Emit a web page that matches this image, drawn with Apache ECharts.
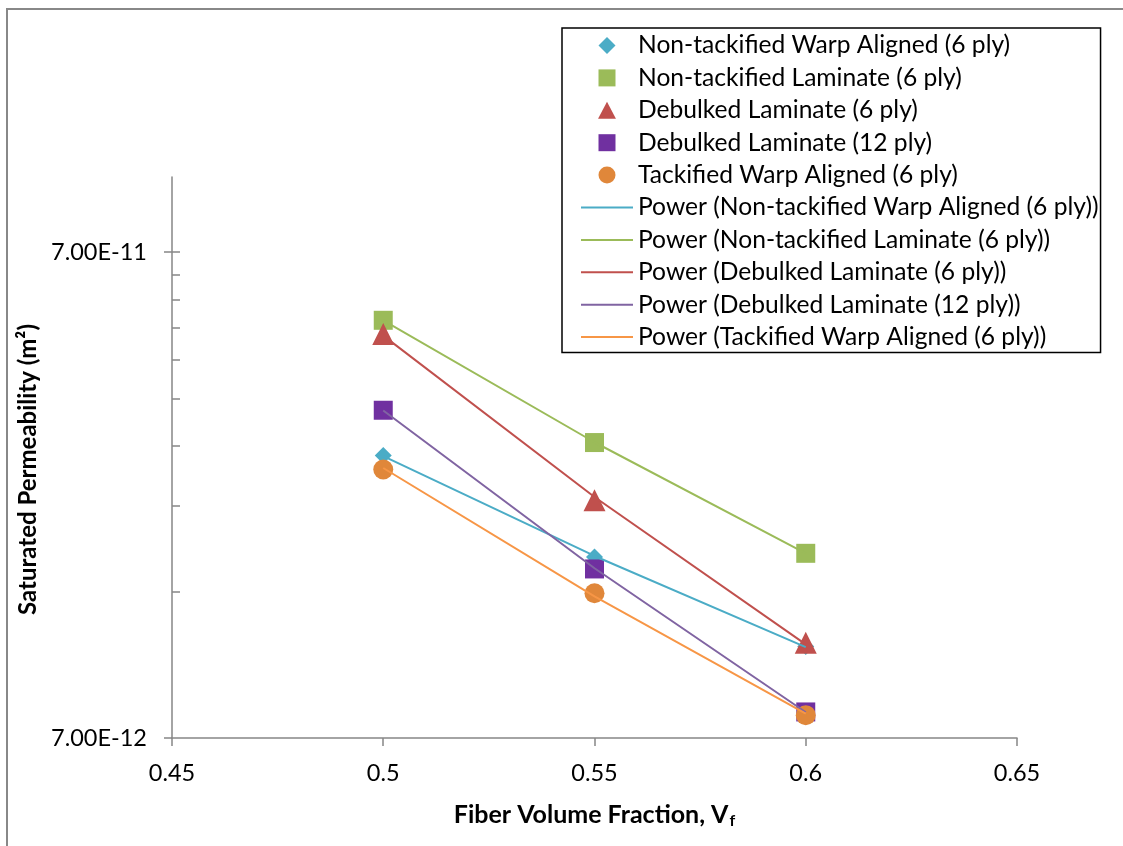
<!DOCTYPE html>
<html>
<head>
<meta charset="utf-8">
<script src="https://cdn.jsdelivr.net/npm/echarts@6/dist/echarts.min.js"></script>
<style>html,body{margin:0;padding:0;background:#fff}#c{width:1123px;height:846px}</style>
</head>
<body>
<div id="c"></div>
<script>
// ---- data ----
const xValues = [0.5, 0.55, 0.6];
const warpNonTack = [2.67e-11, 1.65e-11, 1.08e-11];
const lamNonTack = [5.07e-11, 2.84e-11, 1.68e-11];
const debulked6 = [4.75e-11, 2.16e-11, 1.10e-11];
const debulked12 = [3.31e-11, 1.56e-11, 7.92e-12];
const warpTack = [2.50e-11, 1.39e-11, 7.80e-12];
const seriesNames = [
  'Non-tackified Warp Aligned (6 ply)',
  'Non-tackified Laminate (6 ply)',
  'Debulked Laminate (6 ply)',
  'Debulked Laminate (12 ply)',
  'Tackified Warp Aligned (6 ply)'
];
const xTicks = [0.45, 0.5, 0.55, 0.6, 0.65];
const yMajorTicks = [7e-12, 7e-11];
const yMinorTicks = [1.4e-11, 2.1e-11, 2.8e-11, 3.5e-11, 4.2e-11, 4.9e-11, 5.6e-11, 6.3e-11, 7e-11];

// ---- styles ----
const markerColors = ['#4BACC6', '#9BBB59', '#C0504D', '#7030A0', '#E0873A'];
const lineColors = ['#4BACC6', '#9BBB59', '#C0504D', '#8064A2', '#F79646'];
const symbols = ['diamond', 'rect', 'triangle', 'rect', 'circle'];
const symbolSizes = [17, 19, 22, 19, 20];
const legendIcons = [
  'path://M0,-1 L1,0 L0,1 L-1,0 Z',
  'path://M-1,-1 L1,-1 L1,1 L-1,1 Z',
  'path://M0,-0.95 L1,0.95 L-1,0.95 Z',
  'path://M-1,-1 L1,-1 L1,1 L-1,1 Z',
  'path://M1,0 A1,1 0 1,1 -1,0 A1,1 0 1,1 1,0 Z'
];
const FONT = 'Lato';

// power regression (Excel "Power" trendline)
function powerFit(xs, ys) {
  const n = xs.length;
  let sx = 0, sy = 0, sxx = 0, sxy = 0;
  for (let i = 0; i < n; i++) {
    const lx = Math.log(xs[i]), ly = Math.log(ys[i]);
    sx += lx; sy += ly; sxx += lx * lx; sxy += lx * ly;
  }
  const b = (n * sxy - sx * sy) / (n * sxx - sx * sx);
  const a = Math.exp((sy - b * sx) / n);
  return xs.map(x => [x, a * Math.pow(x, b)]);
}

const allData = [warpNonTack, lamNonTack, debulked6, debulked12, warpTack];
const series = [];
const legendData = [];
allData.forEach((ys, i) => {
  series.push({
    name: seriesNames[i],
    type: 'scatter',
    symbol: symbols[i],
    symbolSize: symbolSizes[i],
    itemStyle: { color: markerColors[i], opacity: 1 },
    data: xValues.map((x, j) => [x, ys[j]]),
    z: 2
  });
  legendData.push({ name: seriesNames[i], icon: legendIcons[i] });
});
allData.forEach((ys, i) => {
  const nm = 'Power (' + seriesNames[i] + ')';
  series.push({
    name: nm,
    type: 'line',
    symbol: 'none',
    lineStyle: { color: lineColors[i], width: 2 },
    itemStyle: { color: lineColors[i] },
    data: powerFit(xValues, ys),
    z: 3
  });
  legendData.push({ name: nm, itemStyle: { opacity: 0 } });
});

const chart = echarts.init(document.getElementById('c'));
chart.setOption({
  animation: false,
  backgroundColor: '#fff',
  textStyle: { fontFamily: FONT },
  graphic: [
    { type: 'line', shape: { x1: 7, y1: 9, x2: 1123, y2: 9 }, style: { stroke: '#888', lineWidth: 2 } },
    { type: 'line', shape: { x1: 7, y1: 8, x2: 7, y2: 846 }, style: { stroke: '#888', lineWidth: 2 } }
  ],
  grid: { left: 172, right: 106, top: 177, bottom: 108 },
  legend: {
    orient: 'vertical',
    left: 562,
    top: 28,
    padding: [5, 2, 3, 18],
    itemWidth: 52,
    itemHeight: 17,
    itemGap: 7.4,
    symbolKeepAspect: true,
    borderColor: '#000',
    borderWidth: 1.5,
    backgroundColor: '#fff',
    textStyle: { fontFamily: FONT, fontSize: 24.6, color: '#000' },
    data: legendData
  },
  xAxis: {
    type: 'value',
    min: 0.45,
    max: 0.65,
    interval: 0.05,
    axisLine: { lineStyle: { color: '#868686', width: 1.5 } },
    axisTick: { show: true, length: 8, lineStyle: { color: '#868686', width: 1.5 } },
    splitLine: { show: false },
    axisLabel: { fontFamily: FONT, fontSize: 23.5, color: '#000', margin: 23, formatter: v => String(+v.toFixed(2)) },
    name: '{a|Fiber Volume Fraction, V}{s|f}',
    nameLocation: 'middle',
    nameGap: 63,
    nameTextStyle: {
      rich: {
        a: { fontFamily: FONT, fontSize: 25, fontWeight: 'bold', color: '#000' },
        s: { fontFamily: FONT, fontSize: 16, fontWeight: 'bold', color: '#000', padding: [12, 0, 0, 1] }
      }
    }
  },
  yAxis: [
    {
      type: 'log',
      logBase: 10,
      min: 7e-12,
      max: 1e-10,
      axisLine: { show: true, lineStyle: { color: '#868686', width: 1.5 } },
      axisTick: { show: true, length: 8, customValues: yMajorTicks, lineStyle: { color: '#868686', width: 1.5 } },
      axisLabel: { customValues: yMajorTicks, fontFamily: FONT, fontSize: 23.5, color: '#000', margin: 25,
        formatter: v => Number(v).toExponential(2).toUpperCase() },
      splitLine: { show: false },
      name: 'Saturated Permeability (m²)',
      nameLocation: 'middle',
      nameGap: 114,
      nameTextStyle: { fontFamily: FONT, fontSize: 24, fontWeight: 'bold', color: '#000', padding: [0, 24, 0, 0] }
    },
    {
      type: 'log',
      logBase: 10,
      min: 7e-12,
      max: 1e-10,
      position: 'left',
      axisLine: { show: false },
      axisTick: { show: true, inside: true, length: 8, customValues: yMinorTicks, lineStyle: { color: '#868686', width: 1.5 } },
      axisLabel: { show: false },
      splitLine: { show: false }
    }
  ],
  series: series
});
</script>
</body>
</html>
